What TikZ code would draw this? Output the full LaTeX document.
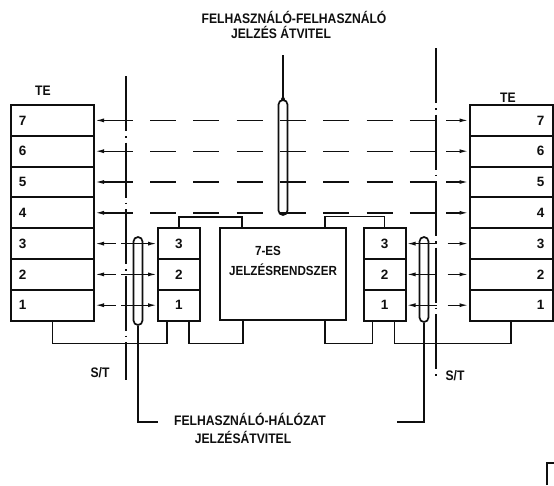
\documentclass[tikz,border=0pt]{standalone}
\usepackage{fontspec}
\setmainfont{Liberation Sans}
\usepackage{tikz}
\usetikzlibrary{
    arrows.meta,
    calc,
    positioning
}
\definecolor{ink}{RGB}{15,15,15}
\tikzset{
    line cap=round,
    line join=round,
    terow/.style={
        rectangle,
        draw=ink,
        line width=2pt,
        minimum width=83pt,
        minimum height=30.8pt,
        text width=67pt,
        inner xsep=8pt,
        inner ysep=0pt,
        font=\fontsize{13.5}{13.5}\selectfont\bfseries,
        text=ink
    },
    terowl/.style={terow, align=left},
    terowr/.style={terow, align=right},
    sbox/.style={
        rectangle,
        draw=ink,
        line width=2pt,
        minimum width=42pt,
        minimum height=30.8pt,
        inner sep=0pt,
        font=\fontsize{13.5}{13.5}\selectfont\bfseries,
        text=ink
    },
    sysbox/.style={
        rectangle,
        draw=ink,
        line width=2pt,
        minimum width=126pt,
        minimum height=92pt,
        inner sep=0pt
    },
    pill/.style={
        rectangle,
        rounded corners=4.5pt,
        draw=ink,
        line width=1.7pt,
        minimum width=9pt,
        inner sep=0pt
    },
    sig/.style={
        >={Latex[length=9pt,width=4pt]},
        draw=ink,
        line width=1.4pt
    },
    sigdash/.style={
        draw=ink,
        line width=1.4pt,
        dash pattern=on 26pt off 17.3pt
    },
    bus/.style={
        draw=ink,
        line width=1.6pt
    },
    boundary/.style={
        draw=ink,
        line width=1.5pt,
        dash pattern=on 55pt off 5pt on 1.5pt off 5pt
    },
    lbl/.style={
        inner sep=0pt,
        text height=10pt,
        text depth=0pt,
        text=ink,
        xscale=0.88,
        transform shape,
        font=\fontsize{13.8}{15}\selectfont\bfseries
    }
}

\begin{document}
\begin{tikzpicture}[x=1pt, y=-1pt]
\useasboundingbox (0,0) rectangle (554,485);

% Terminal equipment rows
\foreach \i in {1,...,7} {
    \pgfmathsetmacro{\yy}{320.6-(\i-0.5)*30.8}
    \node[terowl] (lte\i) at (52.5,\yy) {\i};
    \node[terowr] (rte\i) at (511,\yy) {\i};
}
\node[lbl] (telbl) at (43,90) {TE};
\node[lbl] (terlbl) at (508,97) {TE};

% Network side layers
\foreach \i in {1,2,3} {
    \node[sbox, right=62pt of lte\i] (lsb\i) {\i};
    \node[sbox, left=62pt of rte\i] (rsb\i) {\i};
}
\node[sysbox, right=18pt of lsb2] (sys) {};
\node[lbl, font=\fontsize{13.2}{15}\selectfont\bfseries] (es7) at ([xshift=-15pt,yshift=24pt]sys.center) {7-ES};
\node[lbl, font=\fontsize{13.2}{15}\selectfont\bfseries] (jrsz) at ([yshift=4pt]sys.center) {JELZÉSRENDSZER};

% Signalling paths (pills)
\node[pill, minimum height=115pt] (pc) at (283,157.5) {};
\node[pill, minimum height=88pt] (pl) at (138,281) {};
\node[pill, minimum height=85pt] (pr) at (424,279.5) {};
\coordinate (pctop) at (283,55);
\coordinate (plfoot) at (158,422);
\coordinate (prfoot) at (397,422);

% S/T reference points
\coordinate (stltop) at (126,76);
\coordinate (stlbot) at (126,380);
\coordinate (strtop) at (436,48);
\coordinate (strbot) at (436,380);
\draw[boundary] (stltop) -- (stlbot);
\draw[boundary] (strtop) -- (strbot);

% End to end layers
\foreach \i in {4,...,7} {
    \draw[sig, <-, shorten >=336pt] (lte\i.east) -- (rte\i.west);
    \draw[sigdash, shorten <=55pt, shorten >=33pt] (lte\i.east) -- (rte\i.west);
    \draw[sig, ->, shorten <=351pt] (lte\i.east) -- (rte\i.west);
}

% Access layers
\foreach \i in {1,2,3} {
    \draw[sig, <-, shorten >=41pt] (lte\i.east) -- (lsb\i.west);
    \draw[sig, ->, shorten <=26pt] (lte\i.east) -- (lsb\i.west);
    \draw[sig, <-, shorten >=32pt] (rsb\i.east) -- (rte\i.west);
    \draw[sig, ->, shorten <=41pt] (rsb\i.east) -- (rte\i.west);
}

% Bus connections
\draw[bus] (lsb3.north) -- ++(0,-10) -| ([xshift=-41pt]sys.north);
\draw[bus] ([xshift=42pt]sys.north) -- ++(0,-11) -| (rsb3.north);
\draw[bus] (lte1.south) -- ++(0,22) -| ([xshift=-12pt]lsb1.south);
\draw[bus] ([xshift=10pt]lsb1.south) -- ++(0,22) -| ([xshift=-40pt]sys.south);
\draw[bus] ([xshift=42pt]sys.south) -- ++(0,22) -| ([xshift=-12pt]rsb1.south);
\draw[bus] ([xshift=10pt]rsb1.south) -- ++(0,22) -| (rte1.south);

\draw[bus] (pc.north) -- (pctop);
\fill[ink] (pc.north) circle (2pt);
\draw[bus] (pl.south) |- (plfoot);
\draw[bus] (pr.south) |- (prfoot);

% Labels
\node[lbl] (ttl1) at (294,18) {FELHASZNÁLÓ-FELHASZNÁLÓ};
\node[lbl] (ttl2) at (281,33) {JELZÉS ÁTVITEL};
\node[lbl] (btm1) at (250,420) {FELHASZNÁLÓ-HÁLÓZAT};
\node[lbl] (btm2) at (243,438) {JELZÉSÁTVITEL};
\node[lbl] (stl) at (100,372) {S/T};
\node[lbl] (str) at (455,375) {S/T};

% page corner
\draw[bus] (547,485) |- (554,463);
\end{tikzpicture}
\end{document}
